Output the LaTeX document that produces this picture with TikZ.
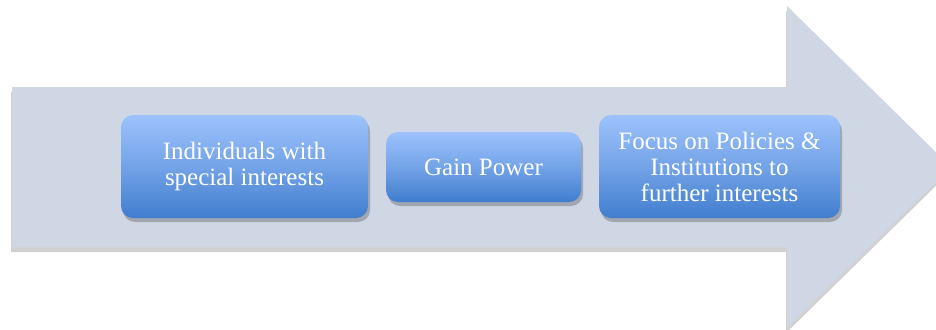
\documentclass[tikz,border=0pt]{standalone}
\usepackage{fontspec}
\setmainfont{Liberation Serif}
\usetikzlibrary{shadows,shadings}
\definecolor{arrowfill}{RGB}{207,215,229}
\definecolor{boxtop}{RGB}{157,194,252}
\definecolor{boxbot}{RGB}{64,125,206}
\tikzset{
  stagebox/.style={rounded corners=12pt, top color=boxtop, bottom color=boxbot,
    middle color=boxtop!55!boxbot,
    text=white, align=center, inner sep=0pt,
    font=\fontsize{25}{26}\selectfont,
    drop shadow={shadow xshift=2pt, shadow yshift=-4pt, opacity=0.35, fill=black!70}},
  bigarrow/.style={fill=arrowfill, draw=none,
    drop shadow={shadow xshift=-1pt, shadow yshift=-5pt, opacity=0.3, fill=black!60}}
}
\begin{document}
\begin{tikzpicture}[x=1pt,y=-1pt]
\useasboundingbox (0,0) rectangle (936,329);
\path[bigarrow] (12,87) -- (787,87) -- (787,6) -- (951,167) -- (787,328) -- (787,247) -- (12,247) -- cycle;
\node[stagebox, minimum width=247pt, minimum height=103pt] (n1) at (244.5,166.5) {Individuals with\\special interests};
\node[stagebox, minimum width=195pt, minimum height=70pt] (n2) at (483.5,167) {Gain Power};
\node[stagebox, minimum width=241pt, minimum height=103pt] (n3) at (719.5,166.5) {Focus on Policies \&\\Institutions to\\further interests};
\end{tikzpicture}
\end{document}
